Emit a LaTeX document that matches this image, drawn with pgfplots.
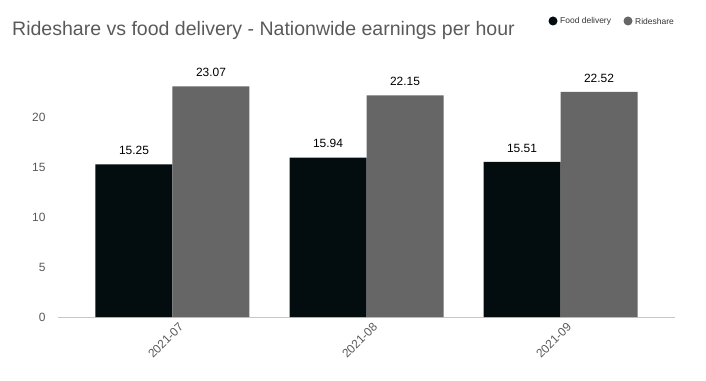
\documentclass[border=0pt]{standalone}
\usepackage{fontspec}
\setmainfont{Liberation Sans}
\usepackage{pgfplots}
\pgfplotsset{compat=1.18}
\definecolor{fooddark}{HTML}{030C0E}
\definecolor{ridegray}{HTML}{666666}
\definecolor{txtgray}{HTML}{5A5A5A}
\begin{document}
\begin{tikzpicture}
\path[use as bounding box] (0,0) rectangle (706bp,381bp);
\begin{axis}[
  at={(58bp,64bp)}, anchor=south west,
  scale only axis, width=617bp, height=250bp,
  ymin=0, ymax=25, xmin=-0.59, xmax=2.59,
  ybar=0pt, bar width=77bp,
  xtick={0,1,2}, xticklabels={2021-07,2021-08,2021-09},
  ytick={0,5,10,15,20},
  axis x line*=bottom, axis y line*=left,
  y axis line style={draw=none},
  x axis line style={draw=black!22},
  major tick length=0pt,
  tick label style={font=\fontsize{12}{14}\selectfont, text=txtgray},
  /pgf/number format/assume math mode=true,
  yticklabel style={xshift=-9bp},
  xticklabel style={rotate=45, anchor=north east, xshift=4bp, yshift=-4bp},
  nodes near coords={\pgfmathprintnumber[fixed,fixed zerofill,precision=2,assume math mode=true]{\pgfplotspointmeta}},
  nodes near coords style={font=\fontsize{12}{14}\selectfont, text=black, yshift=6bp},
  clip=false,
]
\addplot[fill=fooddark, draw=none] coordinates {(0,15.25) (1,15.94) (2,15.51)};
\addplot[fill=ridegray, draw=none] coordinates {(0,23.07) (1,22.15) (2,22.52)};
\end{axis}
\node[anchor=west, text=txtgray, font=\fontsize{19.6}{22}\selectfont, inner sep=0pt] at (12bp,351bp) {Rideshare vs food delivery - Nationwide earnings per hour};
\fill[fooddark] (553bp,360bp) circle (4.5bp);
\node[anchor=west, font=\fontsize{8.5}{10}\selectfont, inner sep=0pt, text=black!80] at (560bp,360bp) {Food delivery};
\fill[ridegray] (628bp,360bp) circle (4.5bp);
\node[anchor=west, font=\fontsize{8.5}{10}\selectfont, inner sep=0pt, text=black!80] at (635bp,360bp) {Rideshare};
\end{tikzpicture}
\end{document}
